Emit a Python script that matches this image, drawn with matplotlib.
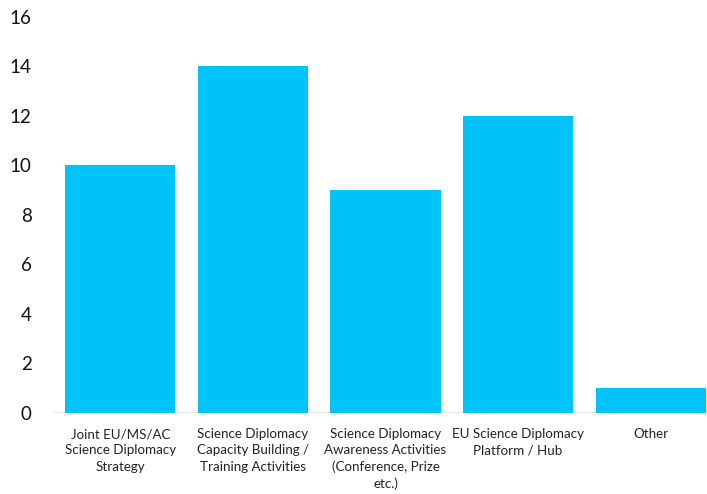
import matplotlib
matplotlib.use("Agg")
import matplotlib.pyplot as plt

categories = [
    "Joint EU/MS/AC\nScience Diplomacy\nStrategy",
    "Science Diplomacy\nCapacity Building /\nTraining Activities",
    "Science Diplomacy\nAwareness Activities\n(Conference, Prize\netc.)",
    "EU Science Diplomacy\nPlatform / Hub",
    "Other",
]
counts = [10, 14, 9, 12, 1]
y_ticks = [0, 2, 4, 6, 8, 10, 12, 14, 16]

plt.rcParams["font.family"] = ["Lato", "DejaVu Sans"]

fig = plt.figure(figsize=(7.07, 4.94), dpi=100)
ax = fig.add_axes([0.0764, 0.164, 1.0141 - 0.0764, 0.9656 - 0.164])

x = range(len(categories))
ax.bar(x, counts, width=0.83, color="#00C3F7", zorder=2)
ax.axhline(0, color="#e0e0e0", lw=2, zorder=1)

ax.set_xlim(-0.5, 4.5)
ax.set_ylim(0, 16)
ax.set_yticks(y_ticks)
ax.set_xticks(list(x))
ax.set_xticklabels(categories, fontsize=9.6, color="#222222", linespacing=1.42)
ax.tick_params(axis="y", length=0, pad=16, labelsize=13.5, labelcolor="#111111")
ax.tick_params(axis="x", length=0, pad=11)
for s in ax.spines.values():
    s.set_visible(False)

fig.savefig("out.png", dpi=100)
